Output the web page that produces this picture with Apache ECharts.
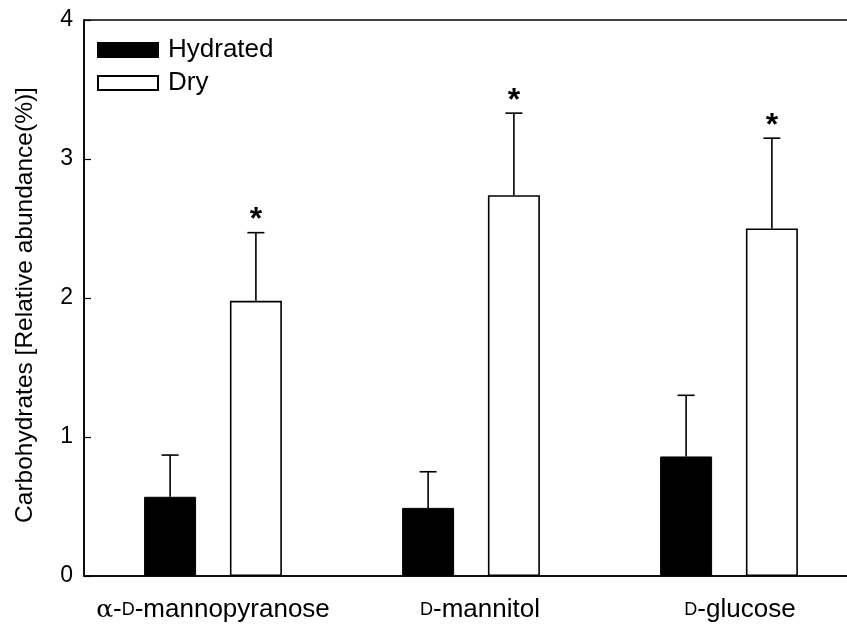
<!DOCTYPE html>
<html>
<head>
<meta charset="utf-8">
<script src="https://cdn.jsdelivr.net/npm/echarts@6/dist/echarts.min.js"></script>
<style>html,body{margin:0;padding:0;background:#fff;overflow:hidden;width:847px;height:630px;}#chart{width:870px;height:630px;}</style>
</head>
<body>
<div id="chart"></div>
<script>
const categories = ['α-D-mannopyranose', 'D-mannitol', 'D-glucose'];
const hydrated = [0.57, 0.49, 0.86];
const hydratedErr = [0.30, 0.26, 0.44];
const dry = [1.98, 2.74, 2.50];
const dryErr = [0.49, 0.59, 0.65];
const drySig = ['*', '*', '*'];
const hydratedSig = ['', '', ''];
const yTicks = [0, 1, 2, 3, 4];

const FONT = "'Liberation Sans', Arial, sans-serif";
const BAR_W = 52;
const BAR_GAP = 0.65; // fraction of bar width
const LABEL_SHIFT = [0, 18, 22]; // layout: left padding of each category label

const chart = echarts.init(document.getElementById('chart'));

function errSeries(name, vals, errs, sig, side) {
  return {
    type: 'custom',
    name: name + ' err',
    z: 5,
    silent: true,
    data: vals.map((v, i) => [i, v, errs[i]]),
    renderItem: function (params, api) {
      const i = api.value(0);
      const v = api.value(1);
      const e = api.value(2);
      const s = sig[params.dataIndex];
      const off = side * (BAR_W + BAR_W * BAR_GAP) / 2;
      const b = api.coord([i, v]);
      const t = api.coord([i, v + e]);
      const x = b[0] + off;
      const cap = 8.5;
      const lineStyle = { stroke: '#000', lineWidth: 1.6 };
      const children = [
        { type: 'line', shape: { x1: x, y1: b[1], x2: x, y2: t[1] }, style: lineStyle },
        { type: 'line', shape: { x1: x - cap, y1: t[1], x2: x + cap, y2: t[1] }, style: lineStyle }
      ];
      if (s) {
        children.push({
          type: 'text',
          style: { text: s, x: x, y: t[1] + 4, align: 'center', verticalAlign: 'bottom',
                   font: 'bold 32px ' + FONT, fill: '#000' }
        });
      }
      return { type: 'group', children: children };
    }
  };
}

const option = {
  animation: false,
  backgroundColor: '#fff',
  textStyle: { fontFamily: FONT, color: '#000' },
  grid: {
    left: 84, top: 20, width: 774, bottom: 54,
    show: true, borderColor: '#000', borderWidth: 1.5, backgroundColor: 'transparent'
  },
  legend: {
    orient: 'vertical',
    left: 92, top: 32,
    itemWidth: 60, itemHeight: 14, itemGap: 7,
    icon: 'rect',
    textStyle: { fontSize: 26, color: '#000', fontFamily: FONT, padding: [0, 0, 0, 5] },
    data: ['Hydrated', 'Dry']
  },
  xAxis: {
    type: 'category',
    data: categories.map((c, i) => ({ value: c, textStyle: { padding: [0, 0, 0, LABEL_SHIFT[i]] } })),
    axisTick: { show: false },
    axisLine: { lineStyle: { color: '#000', width: 1.5 } },
    axisLabel: {
      interval: 0,
      margin: 21,
      color: '#000',
      fontSize: 26,
      fontFamily: FONT,
      formatter: function (v) {
        return v.replace(/(^|-)D-/, '$1{sc|D}-').replace(/^α/, '{g|α}');
      },
      rich: {
        sc: { fontSize: 18, fontFamily: FONT, color: '#000' },
        g: { fontSize: 25, fontFamily: "'DejaVu Serif', serif", color: '#000' }
      }
    }
  },
  yAxis: {
    type: 'value',
    min: yTicks[0], max: yTicks[yTicks.length - 1], interval: 1,
    name: 'Carbohydrates [Relative abundance(%)]',
    nameLocation: 'middle',
    nameGap: 46,
    nameTextStyle: { fontSize: 24.5, color: '#000', fontFamily: FONT, padding: [0, 14, 0, 0] },
    axisLine: { show: true, lineStyle: { color: '#000', width: 1.5 } },
    axisTick: { show: true, inside: true, length: 7, lineStyle: { color: '#000', width: 1.2 } },
    splitLine: { show: false },
    axisLabel: { margin: 11, color: '#000', fontSize: 23, fontFamily: FONT }
  },
  series: [
    {
      name: 'Hydrated', type: 'bar', data: hydrated,
      barWidth: BAR_W, barGap: (BAR_GAP * 100) + '%',
      itemStyle: { color: '#000', borderColor: '#000', borderWidth: 1 }
    },
    {
      name: 'Dry', type: 'bar', data: dry,
      barWidth: BAR_W,
      itemStyle: { color: '#fff', borderColor: '#000', borderWidth: 1.6 }
    },
    errSeries('Hydrated', hydrated, hydratedErr, hydratedSig, -1),
    errSeries('Dry', dry, dryErr, drySig, 1)
  ]
};
chart.setOption(option);
</script>
</body>
</html>
